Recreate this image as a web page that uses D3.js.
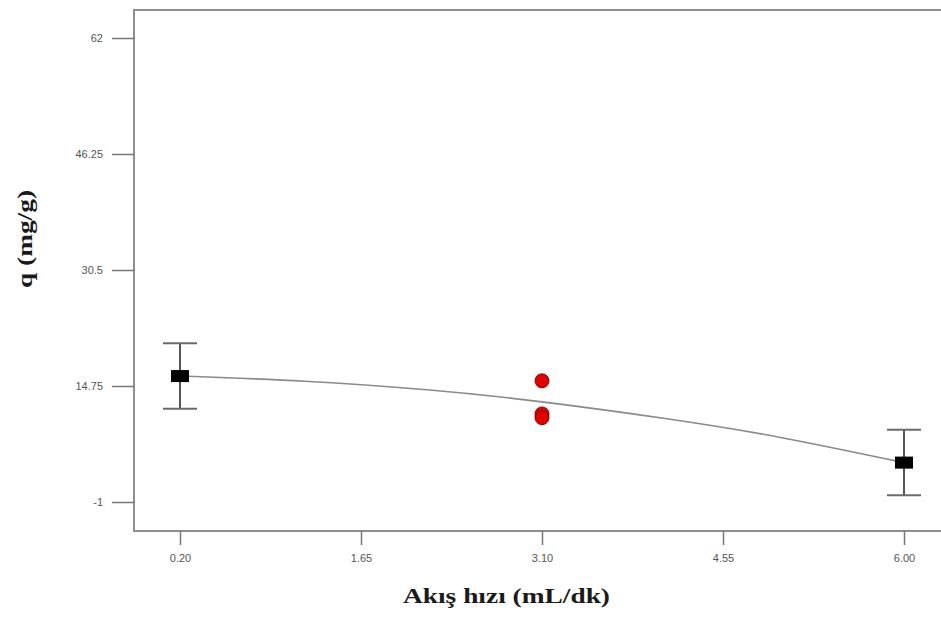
<!DOCTYPE html>
<html><head><meta charset="utf-8">
<script src="https://cdn.jsdelivr.net/npm/d3@7"></script>
<style>html,body{margin:0;padding:0;background:#fff;overflow:hidden}</style>
</head><body>
<svg id="c" width="941" height="617"></svg>
<script>
// Data
const xTicks = [0.20, 1.65, 3.10, 4.55, 6.00];
const xTickLabels = ["0.20", "1.65", "3.10", "4.55", "6.00"];
const yTicks = [-1, 14.75, 30.5, 46.25, 62];
const yTickLabels = ["-1", "14.75", "30.5", "46.25", "62"];
// design points (black squares with error bars)
const designX = [0.2, 6.0];
const designY = [16.1, 4.35];
const designErr = [4.45, 4.45];
// center points (red)
const centerX = [3.1, 3.1, 3.1];
const centerY = [15.45, 10.95, 10.45];
// fitted curve
const fitX = [0.2, 1.2, 2.2, 3.1, 4.1, 5.0, 6.0];
const fitY = [16.1, 15.4, 14.2, 12.6, 10.3, 7.8, 4.35];
const xTitle = "Akış hızı (mL/dk)";
const yTitle = "q (mg/g)";

const svg = d3.select("#c");
const x = d3.scaleLinear().domain([0.2, 6.0]).range([180, 904]);
const y = d3.scaleLinear().domain([-1, 62]).range([502, 38]);
const fLeft = 134, fTop = 10, fBottom = 531, fRight = 960;

// frame
svg.append("path")
  .attr("d", `M${fRight},${fTop}H${fLeft}V${fBottom}H${fRight}`)
  .attr("fill", "none").attr("stroke", "#8f8f8f").attr("stroke-width", 2);

// y axis
const yAxis = d3.axisLeft(y).tickValues(yTicks).tickFormat((d, i) => yTickLabels[i]).tickSize(22).tickPadding(9);
const gy = svg.append("g").attr("transform", `translate(${fLeft},0)`).call(yAxis);
gy.select(".domain").remove();
gy.selectAll(".tick line").attr("stroke", "#777").attr("stroke-width", 1.5);
gy.selectAll(".tick text").attr("fill", "#555").style("font-family", "Arial, 'Liberation Sans', sans-serif").style("font-size", "11px");

// x axis
const xAxis = d3.axisBottom(x).tickValues(xTicks).tickFormat((d, i) => xTickLabels[i]).tickSize(14).tickPadding(9);
const gx = svg.append("g").attr("transform", `translate(0,${fBottom})`).call(xAxis);
gx.select(".domain").remove();
gx.selectAll(".tick line").attr("stroke", "#777").attr("stroke-width", 1.5);
gx.selectAll(".tick text").attr("fill", "#555").style("font-family", "Arial, 'Liberation Sans', sans-serif").style("font-size", "11px");

// fit line
const line = d3.line().x((d, i) => x(fitX[i])).y((d, i) => y(fitY[i])).curve(d3.curveNatural);
svg.append("path").datum(fitX).attr("d", line)
  .attr("fill", "none").attr("stroke", "#8a8a8a").attr("stroke-width", 1.6);

// error bars
const eb = svg.append("g").selectAll("g").data(designX).join("g");
eb.append("line").attr("x1", d => x(d)).attr("x2", d => x(d))
  .attr("y1", (d, i) => y(designY[i] + designErr[i])).attr("y2", (d, i) => y(designY[i] - designErr[i]))
  .attr("stroke", "#555").attr("stroke-width", 2);
eb.append("line").attr("x1", d => x(d) - 17).attr("x2", d => x(d) + 17)
  .attr("y1", (d, i) => y(designY[i] + designErr[i])).attr("y2", (d, i) => y(designY[i] + designErr[i]))
  .attr("stroke", "#6a6a6a").attr("stroke-width", 2);
eb.append("line").attr("x1", d => x(d) - 17).attr("x2", d => x(d) + 17)
  .attr("y1", (d, i) => y(designY[i] - designErr[i])).attr("y2", (d, i) => y(designY[i] - designErr[i]))
  .attr("stroke", "#6a6a6a").attr("stroke-width", 2);
eb.append("rect").attr("x", d => x(d) - 9).attr("y", (d, i) => y(designY[i]) - 6)
  .attr("width", 18).attr("height", 12).attr("fill", "#000");

// center points
svg.append("g").selectAll("circle").data(centerX).join("circle")
  .attr("cx", d => x(d)).attr("cy", (d, i) => y(centerY[i])).attr("r", 7)
  .attr("fill", "#e00000").attr("stroke", "#8a0000").attr("stroke-width", 1);

// titles
svg.append("text").attr("x", 403).attr("y", 603)
  .attr("textLength", 207).attr("lengthAdjust", "spacingAndGlyphs")
  .style("font-family", "'Liberation Serif', 'Times New Roman', serif").style("font-weight", "bold").style("font-size", "22px")
  .attr("fill", "#1a1a1a").text(xTitle);
svg.append("text").attr("transform", "translate(32,288) rotate(-90)")
  .attr("textLength", 98).attr("lengthAdjust", "spacingAndGlyphs")
  .style("font-family", "'Liberation Serif', 'Times New Roman', serif").style("font-weight", "bold").style("font-size", "21px")
  .attr("fill", "#1a1a1a").text(yTitle);
</script>
</body></html>
